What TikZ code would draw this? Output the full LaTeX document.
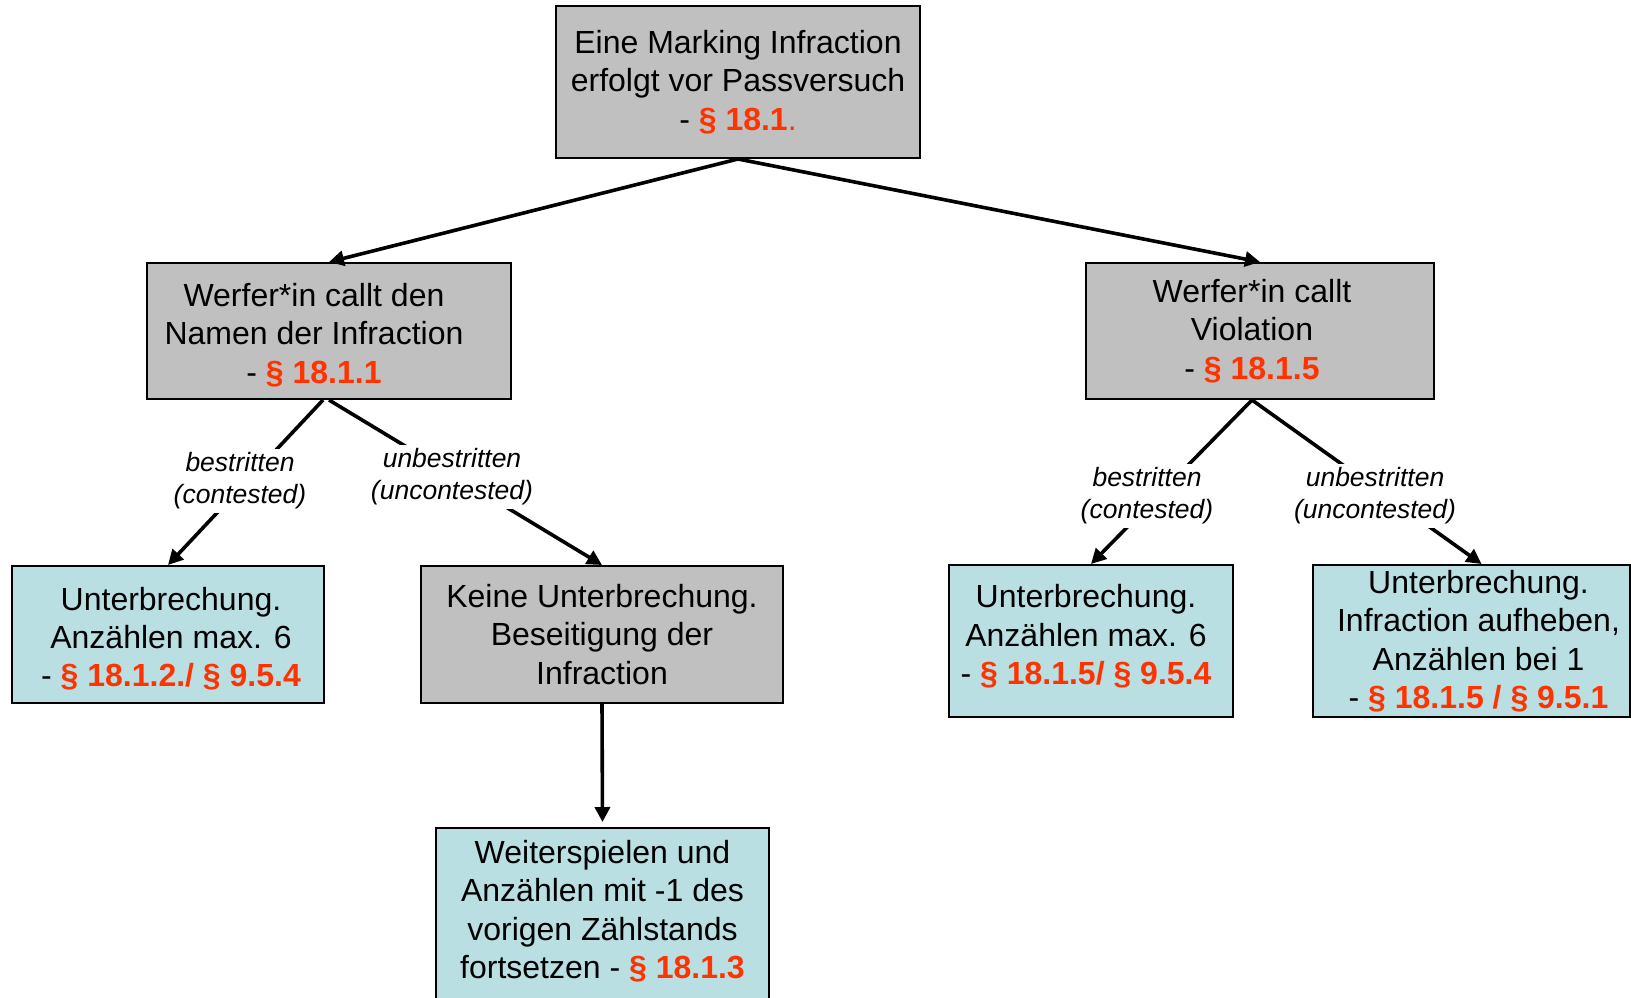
\documentclass[tikz,border=0pt]{standalone}
\usepackage{fontspec}
\setmainfont{Liberation Sans}
\usetikzlibrary{arrows.meta,backgrounds}
\definecolor{boxgray}{RGB}{192,192,192}
\definecolor{boxcyan}{RGB}{186,223,227}
\definecolor{parared}{RGB}{255,51,0}
\newcommand{\para}[1]{\textcolor{parared}{\textbf{#1}}}
% invisible spacer that keeps a line off-centre inside its box
\newcommand{\pad}[1]{\rule{#1}{0pt}}
% invisible struts that push a text block down or up inside its box
\newcommand{\tallstrut}{\rule{0pt}{15.7pt}}
\newcommand{\deepstrut}{\rule[-6.4pt]{0pt}{0pt}}

\begin{document}
\begin{tikzpicture}[x=0.5pt,y=-0.5pt,
  boxtext/.style={align=center, inner sep=0pt, text=black,
    font=\fontsize{16}{19.2}\selectfont},
  box/.style={boxtext, draw=black, line width=1pt},
  graybox/.style={box, fill=boxgray},
  cyanbox/.style={box, fill=boxcyan},
  conn/.style={line width=1.8pt, -{Triangle[length=7.5pt,width=7.5pt]}},
  lbl/.style={fill=white, inner sep=2pt, align=center,
    font=\fontsize{13.25}{16}\selectfont\itshape}
]
\useasboundingbox (0,0) rectangle (1631,997);
\clip (0,0) rectangle (1631,997);

% decision boxes
\node[graybox, minimum width=182pt, minimum height=76pt] (top) at (738,82)
  {Eine Marking Infraction\\erfolgt vor Passversuch\\- \textcolor{parared}{\textbf{§ 18.1}.}};
\node[graybox, minimum width=182pt, minimum height=68pt] (lm) at (329,331)
  {\tallstrut Werfer*in callt den\pad{15pt}\\Namen der Infraction\pad{15pt}\\- \para{§ 18.1.1}\pad{15pt}};
\node[graybox, minimum width=174pt, minimum height=68pt] (rm) at (1260,331)
  {Werfer*in callt\pad{8pt}\\Violation\pad{8pt}\\- \para{§ 18.1.5}\pad{8pt}};

% outcome boxes
\node[cyanbox, minimum width=156pt, minimum height=68.5pt] (b1) at (168,634.5)
  {\tallstrut\pad{3pt}Unterbrechung.\\\pad{3pt}Anzählen max. 6\\\pad{3pt}- \para{§ 18.1.2./ § 9.5.4}};
\node[graybox, minimum width=181pt, minimum height=68.5pt] (b2) at (602,634.5)
  {Keine Unterbrechung.\\Beseitigung der\\Infraction};
\node[cyanbox, minimum width=142pt, minimum height=76pt] (b3) at (1091,641)
  {Unterbrechung.\pad{5pt}\\Anzählen max. 6\pad{5pt}\\- \para{§ 18.1.5/ § 9.5.4}\pad{5pt}\deepstrut};
\node[cyanbox, minimum width=158.5pt, minimum height=76pt] (b4) at (1471.5,641)
  {\pad{7pt}Unterbrechung.\\\pad{7pt}Infraction aufheben,\\\pad{7pt}Anzählen bei 1\\\pad{7pt}- \para{§ 18.1.5 / § 9.5.1}};

% last box, running past the lower edge
\node[boxtext, minimum width=166.5pt] (b5) at (602.5,911)
  {Weiterspielen und\\Anzählen mit -1 des\\vorigen Zählstands\\fortsetzen - \para{§ 18.1.3}};
\coordinate (b5top) at (b5.north |- 0,828);
\begin{scope}[on background layer]
  \draw[line width=1pt, fill=boxcyan] (b5.west |- 0,828) rectangle (b5.east |- 0,1020);
\end{scope}

% connectors
\draw[conn] (top.south) -- (lm.north);
\draw[conn] (top.south) -- (rm.north);
\draw[conn] ([xshift=-3pt]lm.south) -- (b1.north);
\draw[conn] (lm.south) -- (b2.north);
\draw[conn] (b2.south) -- ([yshift=3pt]b5top);
\draw[conn] ([xshift=-4pt]rm.south) -- (b3.north);
\draw[conn] ([xshift=-4pt]rm.south) -- ([xshift=5pt]b4.north);

% connector labels
\node[lbl] (l1) at (240,481) {bestritten\\(contested)};
\node[lbl] (l2) at (452,477) {unbestritten\\(uncontested)};
\node[lbl] (l3) at (1147,496) {bestritten\\(contested)};
\node[lbl] (l4) at (1375,496) {unbestritten\\(uncontested)};
\end{tikzpicture}
\end{document}
